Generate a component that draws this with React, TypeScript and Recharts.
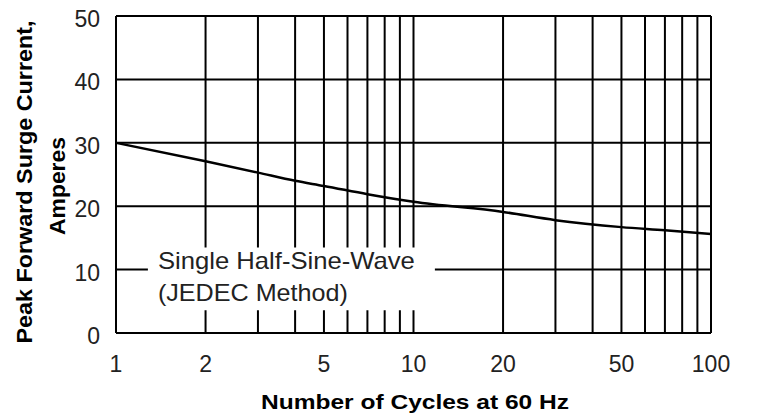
import React from "react";
import {
  LineChart,
  Line,
  XAxis,
  YAxis,
  CartesianGrid,
  ReferenceArea,
} from "recharts";

// surge current curve
const cycles = [1, 2, 3, 4, 5, 7, 10, 20, 30, 50, 70, 100];
const current = [30, 27.1, 25.3, 24.0, 23.2, 21.9, 20.7, 19.1, 17.8, 16.7, 16.2, 15.6];

const xGridTicks = [1, 2, 3, 4, 5, 6, 7, 8, 9, 10, 20, 30, 40, 50, 60, 70, 80, 90, 100];
const xLabels = [1, 2, 5, 10, 20, 50, 100];
const yTicks = [0, 10, 20, 30, 40, 50];

const noteLines = ["Single Half-Sine-Wave", "(JEDEC Method)"];

const data = cycles.map((c, i) => ({ cycles: c, current: current[i] }));

const FONT = "'Liberation Sans', Arial, sans-serif";

function XTick(props: any) {
  const { x, y, payload } = props;
  if (!xLabels.includes(payload.value)) return null;
  return (
    <text
      x={x}
      y={y + 31}
      textAnchor="middle"
      dominantBaseline="central"
      fontFamily={FONT}
      fontSize={23}
      fill="#222"
    >
      {payload.value}
    </text>
  );
}

function YTick(props: any) {
  const { y, payload } = props;
  return (
    <text
      x={100}
      y={y + 3}
      textAnchor="end"
      dominantBaseline="central"
      fontFamily={FONT}
      fontSize={23}
      fill="#222"
    >
      {payload.value}
    </text>
  );
}

function NoteLabel(props: any) {
  const { viewBox } = props;
  const x = viewBox.x + 10;
  const y = viewBox.y;
  return (
    <g fontFamily={FONT} fontSize={24} fill="#222">
      <text x={x} y={y + 13} dominantBaseline="central" textLength={257} lengthAdjust="spacingAndGlyphs">
        {noteLines[0]}
      </text>
      <text x={x} y={y + 45} dominantBaseline="central" textLength={190} lengthAdjust="spacingAndGlyphs">
        {noteLines[1]}
      </text>
    </g>
  );
}

function YTitle() {
  return (
    <g fontFamily={FONT} fontSize={22} fontWeight="bold" fill="#000">
      <text
        x={24}
        y={182}
        textAnchor="middle"
        dominantBaseline="central"
        transform="rotate(-90 24 182)"
        textLength={323}
        lengthAdjust="spacingAndGlyphs"
      >
        Peak Forward Surge Current,
      </text>
      <text
        x={57}
        y={186}
        textAnchor="middle"
        dominantBaseline="central"
        transform="rotate(-90 57 186)"
        textLength={98}
        lengthAdjust="spacingAndGlyphs"
      >
        Amperes
      </text>
    </g>
  );
}

function XTitle() {
  return (
    <text
      x={415}
      y={401}
      textAnchor="middle"
      dominantBaseline="central"
      fontFamily={FONT}
      fontSize={21}
      fontWeight="bold"
      fill="#000"
      textLength={308}
      lengthAdjust="spacingAndGlyphs"
    >
      Number of Cycles at 60 Hz
    </text>
  );
}

export default function App() {
  return (
    <div style={{ position: "absolute", left: 0, top: 0, width: 757, height: 416, background: "#fff" }}>
      <LineChart
        width={757}
        height={416}
        data={data}
        margin={{ top: 16, right: 46, left: 0, bottom: 0 }}
      >
        <CartesianGrid stroke="#000" strokeWidth={2} />
        <XAxis
          dataKey="cycles"
          type="number"
          scale="log"
          domain={[1, 100]}
          ticks={xGridTicks}
          interval={0}
          height={83}
          tickLine={false}
          tickSize={0}
          tickMargin={0}
          axisLine={{ stroke: "#000", strokeWidth: 2 }}
          tick={<XTick />}
          allowDataOverflow
          label={{ content: () => <XTitle /> }}
        />
        <YAxis
          type="number"
          domain={[0, 50]}
          ticks={yTicks}
          interval={0}
          width={116}
          tickLine={false}
          tickSize={0}
          axisLine={{ stroke: "#000", strokeWidth: 2 }}
          tick={<YTick />}
          label={{ content: () => <YTitle /> }}
        />
        <ReferenceArea
          x1={1.28}
          x2={11.8}
          y1={3.6}
          y2={13.5}
          fill="#fff"
          fillOpacity={1}
          stroke="none"
          label={<NoteLabel />}
        />
        <Line
          dataKey="current"
          type="monotone"
          stroke="#000"
          strokeWidth={2.5}
          dot={false}
          isAnimationActive={false}
        />
      </LineChart>
    </div>
  );
}
